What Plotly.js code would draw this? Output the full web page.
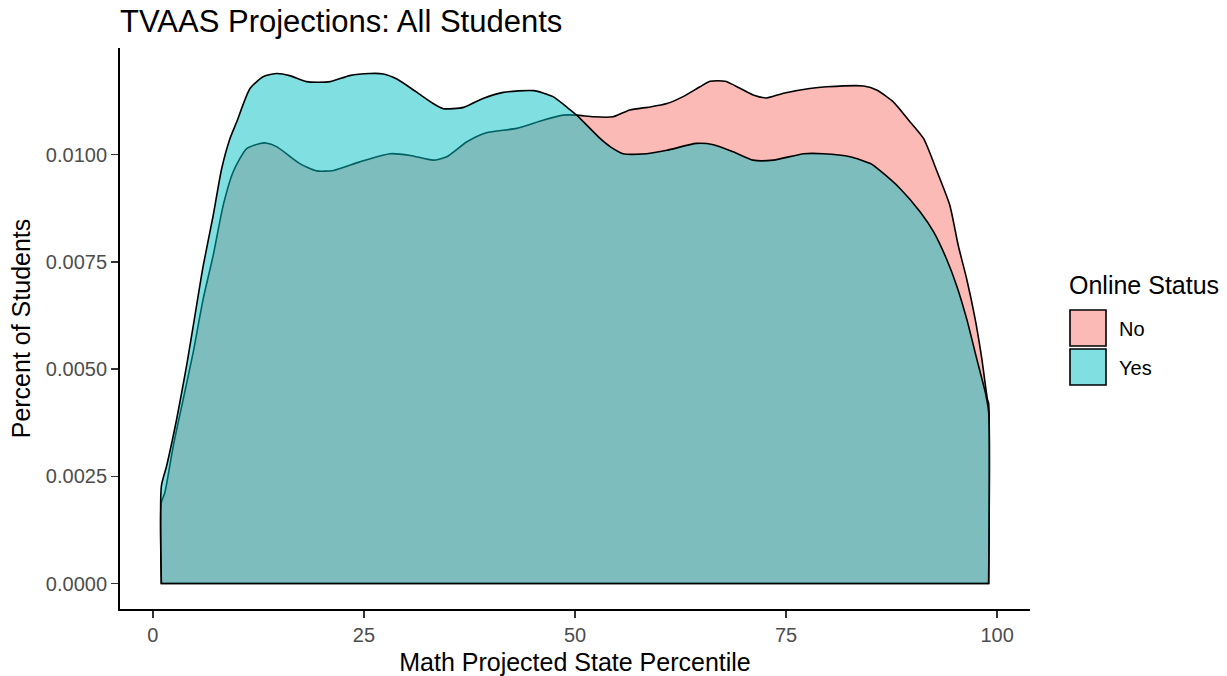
<!DOCTYPE html>
<html>
<head>
<meta charset="utf-8">
<script src="https://cdn.plot.ly/plotly-3.0.1.min.js"></script>
<style>
  html, body { margin: 0; padding: 0; background: #ffffff; }
  #chart { width: 1227px; height: 676px; }
</style>
</head>
<body>
<div id="chart"></div>
<script>
// Density of Math Projected State Percentile, by Online Status
const noX = [1, 1.42, 2.41, 3.59, 4.77, 5.96, 7.14, 8.33, 9.51, 11.1, 12.7, 13.4, 14.7, 17.4, 19.4, 21.4, 24.5, 28.1, 30.5, 33.2, 34.8, 37.2, 39.5, 43.1, 46.2, 48.6, 50.2, 52.2, 54.5, 56.5, 58.9, 60.9, 62.8, 64.8, 66.0, 67.8, 69.6, 71.1, 72.7, 74.7, 77.8, 79.8, 84.2, 85.8, 87.7, 89.7, 91.3, 92.9, 94.4, 95.4, 96.4, 97.4, 98.2, 98.85, 99];
const noY = [0.00189, 0.00212, 0.00321, 0.00430, 0.00539, 0.00664, 0.00765, 0.00882, 0.00960, 0.01014, 0.01026, 0.01027, 0.01018, 0.00979, 0.00962, 0.00963, 0.00983, 0.01002, 0.00998, 0.00987, 0.00995, 0.01030, 0.01051, 0.01061, 0.01080, 0.01092, 0.01092, 0.01088, 0.01088, 0.01104, 0.01111, 0.01119, 0.01135, 0.01158, 0.01171, 0.01171, 0.01154, 0.01139, 0.01132, 0.01143, 0.01154, 0.01158, 0.01160, 0.01150, 0.01123, 0.01076, 0.01037, 0.00960, 0.00882, 0.00788, 0.00710, 0.00617, 0.00523, 0.00430, 0.00420];

const yesX = [1, 1.62, 2.81, 3.99, 4.98, 5.96, 7.14, 8.14, 9.12, 9.92, 11.5, 13.1, 14.7, 16.2, 18.2, 21.0, 23.3, 25.7, 27.3, 28.9, 31.2, 33.2, 34.4, 36.8, 39.1, 41.5, 45.1, 47.4, 49.0, 50.2, 53.0, 54.2, 55.7, 58.5, 60.9, 64.4, 66.4, 68.8, 71.1, 73.5, 77.1, 79.4, 82.6, 85.0, 86.1, 88.5, 90.9, 92.5, 94.0, 95.2, 96.4, 97.6, 98.6, 99];
const yesY = [0.00227, 0.00274, 0.00383, 0.00508, 0.00625, 0.00741, 0.00858, 0.00967, 0.01037, 0.01076, 0.01154, 0.01182, 0.01189, 0.01184, 0.01170, 0.01170, 0.01184, 0.01189, 0.01188, 0.01176, 0.01146, 0.01119, 0.01107, 0.01110, 0.01131, 0.01145, 0.01149, 0.01135, 0.01111, 0.01092, 0.01037, 0.01018, 0.01002, 0.01002, 0.01010, 0.01026, 0.01023, 0.01006, 0.00987, 0.00987, 0.01002, 0.01002, 0.00995, 0.00979, 0.00963, 0.00921, 0.00866, 0.00819, 0.00757, 0.00695, 0.00617, 0.00523, 0.00446, 0.00400];

const groups = ["No", "Yes"];
const groupFill = ["rgba(248,118,109,0.5)", "rgba(0,191,196,0.5)"];
const xTicks = [0, 25, 50, 75, 100];
const yTicks = [0, 0.0025, 0.005, 0.0075, 0.01];

function closedArea(xs, ys) {
  return {
    x: [xs[0], xs[0]].concat(xs, [xs[xs.length - 1], xs[xs.length - 1], xs[0]]),
    y: [0, 0].concat(ys, [0, 0, 0])
  };
}

const series = [[noX, noY], [yesX, yesY]];
const traces = series.map((s, i) => {
  const a = closedArea(s[0], s[1]);
  return {
    type: "scatter", mode: "lines", name: groups[i],
    x: a.x, y: a.y, fill: "toself", fillcolor: groupFill[i],
    line: { color: "#000000", width: 1.6, shape: "spline", smoothing: 0.6 },
    hoverinfo: "skip", showlegend: false
  };
});

const allX = noX.concat(yesX), allY = noY.concat(yesY);
const xmin = Math.min(...allX), xmax = Math.max(...allX);
const ymax = Math.max(...allY);
const xpad = 0.05 * (xmax - xmin), ypad = 0.05 * ymax;

const FONT = "Liberation Sans, Arial, sans-serif";
const L = 120, R = 197, T = 48, B = 67, W = 1227, H = 676;
const pw = W - L - R, ph = H - T - B;
function px(x) { return (x - L) / pw; }
function py(y) { return (H - B - y) / ph; }

const shapes = [], annotations = [];
groups.forEach((g, i) => {
  const top = 310 + i * 39;
  shapes.push({ type: "rect", xref: "paper", yref: "paper",
    x0: px(1070), x1: px(1106), y0: py(top + 36), y1: py(top),
    fillcolor: groupFill[i], line: { color: "#000000", width: 1.6 } });
  annotations.push({ xref: "paper", yref: "paper", x: px(1117), y: py(top + 19),
    xanchor: "left", yanchor: "middle", showarrow: false, text: g,
    font: { family: FONT, size: 20, color: "#000000" } });
});
annotations.push({ xref: "paper", yref: "paper", x: px(1067), y: py(285),
  xanchor: "left", yanchor: "middle", showarrow: false, text: "Online Status",
  font: { family: FONT, size: 25, color: "#000000" } });

const layout = {
  width: W, height: H,
  margin: { l: L, r: R, t: T, b: B, pad: 0 },
  paper_bgcolor: "#ffffff", plot_bgcolor: "#ffffff",
  font: { family: FONT, color: "#000000" },
  title: { text: "TVAAS Projections: All Students", xref: "container", yref: "container",
    x: L / W, xanchor: "left", y: 1 - 21 / H, yanchor: "middle",
    font: { family: FONT, size: 31, color: "#000000" } },
  xaxis: {
    range: [xmin - xpad, xmax + xpad], tickvals: xTicks, ticktext: xTicks.map(String),
    ticks: "outside", ticklen: 7, tickwidth: 1.5, tickcolor: "#333333",
    showline: true, linecolor: "#000000", linewidth: 2,
    showgrid: false, zeroline: false,
    tickfont: { family: FONT, size: 20, color: "#4D4D4D" },
    title: { text: "Math Projected State Percentile", standoff: 8,
      font: { family: FONT, size: 25, color: "#000000" } }
  },
  yaxis: {
    range: [-ypad, ymax + ypad], tickvals: yTicks, ticktext: yTicks.map(v => v.toFixed(4)),
    ticks: "outside", ticklen: 7, tickwidth: 1.5, tickcolor: "#333333",
    showline: true, linecolor: "#000000", linewidth: 2,
    showgrid: false, zeroline: false,
    tickfont: { family: FONT, size: 20, color: "#4D4D4D" },
    title: { text: "Percent of Students", standoff: 8,
      font: { family: FONT, size: 25, color: "#000000" } }
  },
  shapes: shapes, annotations: annotations, showlegend: false
};

Plotly.newPlot("chart", traces, layout, { displayModeBar: false, staticPlot: true });
</script>
</body>
</html>
